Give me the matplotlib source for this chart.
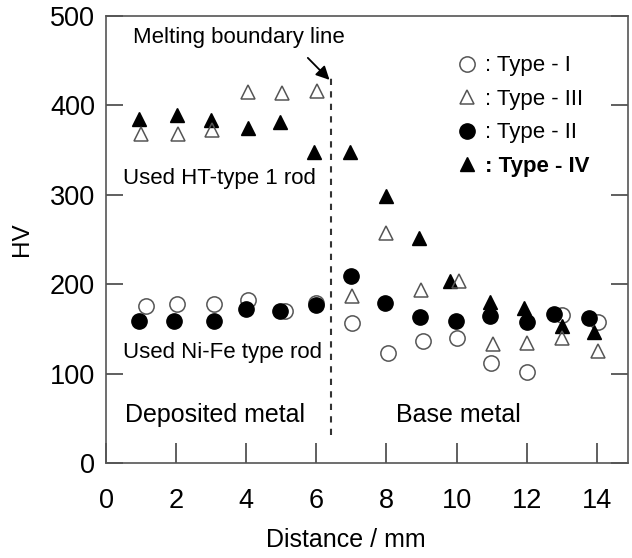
import matplotlib
matplotlib.use("Agg")
import matplotlib.pyplot as plt
from matplotlib.lines import Line2D

plt.rcParams['font.family'] = ['Liberation Sans', 'DejaVu Sans']

# Type - I (open circles)
x_t1 = [1.15, 2.02, 3.07, 4.05, 5.1, 6.0, 7.03, 8.04, 9.03, 10.0, 10.99, 12.0, 13.0, 14.05]
hv_t1 = [176, 178, 178, 182, 170, 179, 157, 123, 136, 140, 112, 102, 166, 158]
# Type - II (filled circles)
x_t2 = [0.94, 1.93, 3.07, 3.98, 4.96, 6.0, 6.98, 7.96, 8.96, 9.98, 10.96, 12.0, 12.77, 13.77]
hv_t2 = [159, 159, 159, 172, 170, 177, 209, 179, 163, 159, 164, 158, 167, 162]
# Type - III (open triangles)
x_t3 = [1.0, 2.05, 3.03, 4.05, 5.03, 6.02, 7.03, 8.0, 9.0, 10.08, 11.03, 12.0, 13.0, 14.03]
hv_t3 = [368, 368, 372, 415, 413, 416, 187, 257, 193, 203, 133, 134, 140, 125]
# Type - IV (filled triangles)
x_t4 = [0.94, 2.02, 3.0, 4.05, 4.96, 5.94, 6.96, 7.99, 8.94, 9.8, 10.96, 11.93, 13.0, 13.93]
hv_t4 = [385, 389, 383, 374, 381, 348, 348, 298, 252, 203, 180, 173, 153, 147]

legend_labels = [': Type - I', ': Type - III', ': Type - II', ': Type - IV']
boundary_x = 6.43

fig = plt.figure(figsize=(6.32, 5.58), dpi=100)
ax = fig.add_axes([0.168, 0.170, 0.826, 0.802])

gray = '#555555'
ms_c = 11
ms_t = 10.5
ax.plot(x_t1, hv_t1, 'o', ms=ms_c, mfc='white', mec=gray, mew=1.1, ls='none', zorder=3)
ax.plot(x_t2, hv_t2, 'o', ms=ms_c, mfc='black', mec='black', mew=1.0, ls='none', zorder=4)
ax.plot(x_t4, hv_t4, '^', ms=ms_t, mfc='black', mec='black', mew=1.0, ls='none', zorder=5)
ax.plot(x_t3, hv_t3, '^', ms=ms_t, mfc='none', mec=gray, mew=1.1, ls='none', zorder=6)

# Boundary line
ax.plot([boundary_x, boundary_x], [31, 436], ls=(0, (3, 3)), color='#333333', lw=1.5, zorder=2)
ax.annotate('', xy=(6.43, 426), xytext=(5.7, 455),
            arrowprops=dict(arrowstyle='-|>', color='black', lw=1.3, mutation_scale=20))
ax.text(3.8, 475, 'Melting boundary line', fontsize=16, ha='center', va='center')

ax.text(0.48, 318, 'Used HT-type 1 rod', fontsize=16, ha='left', va='center')
ax.text(0.48, 124, 'Used Ni-Fe type rod', fontsize=16, ha='left', va='center')
ax.text(0.55, 54, 'Deposited metal', fontsize=18, ha='left', va='center')
ax.text(8.27, 54, 'Base metal', fontsize=18, ha='left', va='center')

handles = [
    Line2D([], [], marker='o', ls='none', ms=ms_c, mfc='white', mec=gray, mew=1.1),
    Line2D([], [], marker='^', ls='none', ms=ms_t, mfc='none', mec=gray, mew=1.1),
    Line2D([], [], marker='o', ls='none', ms=ms_c, mfc='black', mec='black'),
    Line2D([], [], marker='^', ls='none', ms=ms_t, mfc='black', mec='black'),
]
leg = ax.legend(handles, legend_labels, loc='upper left', bbox_to_anchor=(0.652, 0.931),
                frameon=False, fontsize=16, handlelength=1.0, handletextpad=0.35,
                labelspacing=0.56, borderaxespad=0)
leg.get_texts()[3].set_fontweight('bold')

ax.set_xlim(0, 14.9)
ax.set_ylim(0, 500)
ax.set_xticks([0, 2, 4, 6, 8, 10, 12, 14])
ax.set_yticks([0, 100, 200, 300, 400, 500])
ax.tick_params(axis='x', direction='in', length=14.5, width=1.2, colors='#444444',
               labelcolor='black', labelsize=19.5, pad=18)
ax.tick_params(axis='y', direction='in', length=12, width=1.2, colors='#444444',
               labelcolor='black', labelsize=19.5, pad=8, right=True)
for s in ax.spines.values():
    s.set_color('#555555')
    s.set_linewidth(1.2)

ax.set_xlabel('Distance / mm', fontsize=18)
ax.xaxis.set_label_coords(0.46, -0.145)
ax.set_ylabel('HV', fontsize=17.5, labelpad=12)

fig.savefig('out.png', dpi=100)
